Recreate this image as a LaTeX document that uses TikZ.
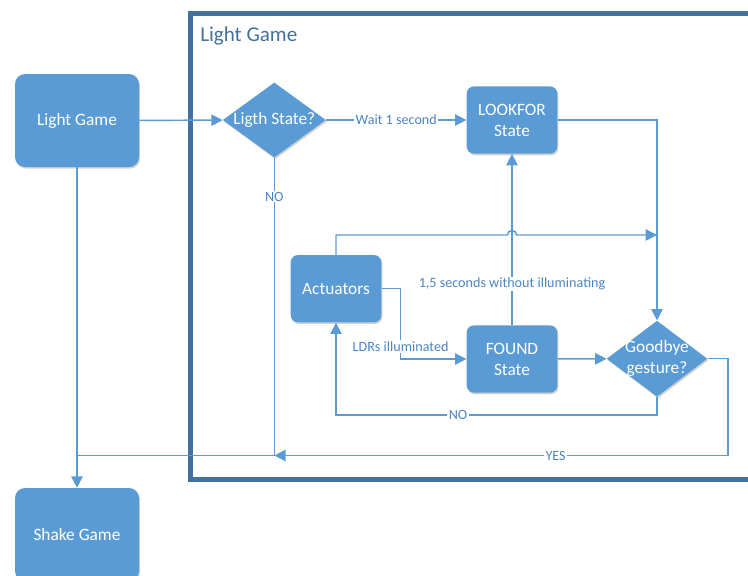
\documentclass[tikz,border=0pt]{standalone}
\usepackage{fontspec}
\setmainfont{Carlito}
\usepackage{tikz}
\usetikzlibrary{positioning,shapes.geometric,arrows.meta,shadows}

\definecolor{boxblue}{HTML}{5B9BD5}
\definecolor{frameblue}{HTML}{41719C}
\definecolor{labelblue}{HTML}{4A85C4}

\tikzset{
  base/.style={fill=boxblue, text=white, inner sep=0pt, align=center,
    font=\fontsize{13}{15.75}\selectfont,
    drop shadow={shadow xshift=0.8pt, shadow yshift=-1.2pt, opacity=0.18, fill=black}},
  game/.style={base, rectangle, rounded corners=7.5pt, minimum width=93pt, minimum height=69.75pt},
  state/.style={base, rectangle, rounded corners=5.5pt, minimum width=68pt, minimum height=50.5pt},
  decide/.style={base, diamond, minimum width=77.25pt, minimum height=56.25pt,
    label={[text=white, align=center, font=\fontsize{13}{15.75}\selectfont]center:{#1}}},
  link/.style={draw=boxblue, line width=1.1pt},
  flow/.style={link, -{Triangle[length=8.5pt,width=8.5pt]}},
  lbl/.style={fill=white, text=labelblue, inner sep=1pt, font=\fontsize{10.6}{12.5}\selectfont},
}

\begin{document}
\begin{tikzpicture}[x=0.75pt,y=0.75pt,yscale=-1,xscale=1]
  \useasboundingbox (0,0) rectangle (748,575);
  \clip (0,0) rectangle (748,575);

  % outer frame of the light game
  \draw[frameblue, line width=3.75pt] (190,13.5) rectangle (770,479);
  \node[anchor=west, text=frameblue, inner sep=0pt, font=\fontsize{15.8}{19}\selectfont] (title) at (200,36) {Light Game};

  % games
  \node[game] (light) at (77,120.5) {Light Game};
  \node[game] (shake) at (77,534.5) {Shake Game};

  % states and decisions
  \node[decide={Ligth State?}] (ask) at (274.3,120) {};
  \node[state] (look) at (512,120) {LOOKFOR\\State};
  \node[state] (act) at (336,288.7) {Actuators};
  \node[state] (found) at (512,359) {FOUND\\State};
  \node[decide={Goodbye\\gesture?}, minimum width=75.5pt, minimum height=57pt] (bye) at (657,358.7) {};

  \coordinate (nojoin) at (274.3,455.5);
  \coordinate (merge) at (657,235);
  \coordinate (hop) at (found.north |- merge);

  % connectors
  \draw[flow] (light) -- (ask);
  \draw[flow] (light) -- (shake);
  \draw[flow] (ask) -- node[lbl]{Wait 1 second} (look);
  \draw[link] (ask.south) -- node[lbl, pos=0.13]{NO} (nojoin) -- (light.south |- nojoin);
  \draw[flow] (look) -| (bye);
  \draw[flow] (found) -- node[lbl, pos=0.24]{1,5 seconds without illuminating} (look);
  \draw[flow] (found) -- (bye);
  \draw[flow] (act.north) |- ([xshift=-3.4pt]hop) arc[start angle=180, end angle=360, radius=3.4pt] -- (merge);
  \draw[flow] (act.east) -- ++(19,0) |- node[lbl, pos=0.41]{LDRs illuminated} (found.west);
  \draw[flow] (bye.south) -- ++(0,18) -| node[lbl, pos=0.31]{NO} (act.south);
  \draw[flow] (bye.east) -- ++(20.5,0) |- node[lbl, pos=0.69]{YES} (nojoin);
\end{tikzpicture}
\end{document}
